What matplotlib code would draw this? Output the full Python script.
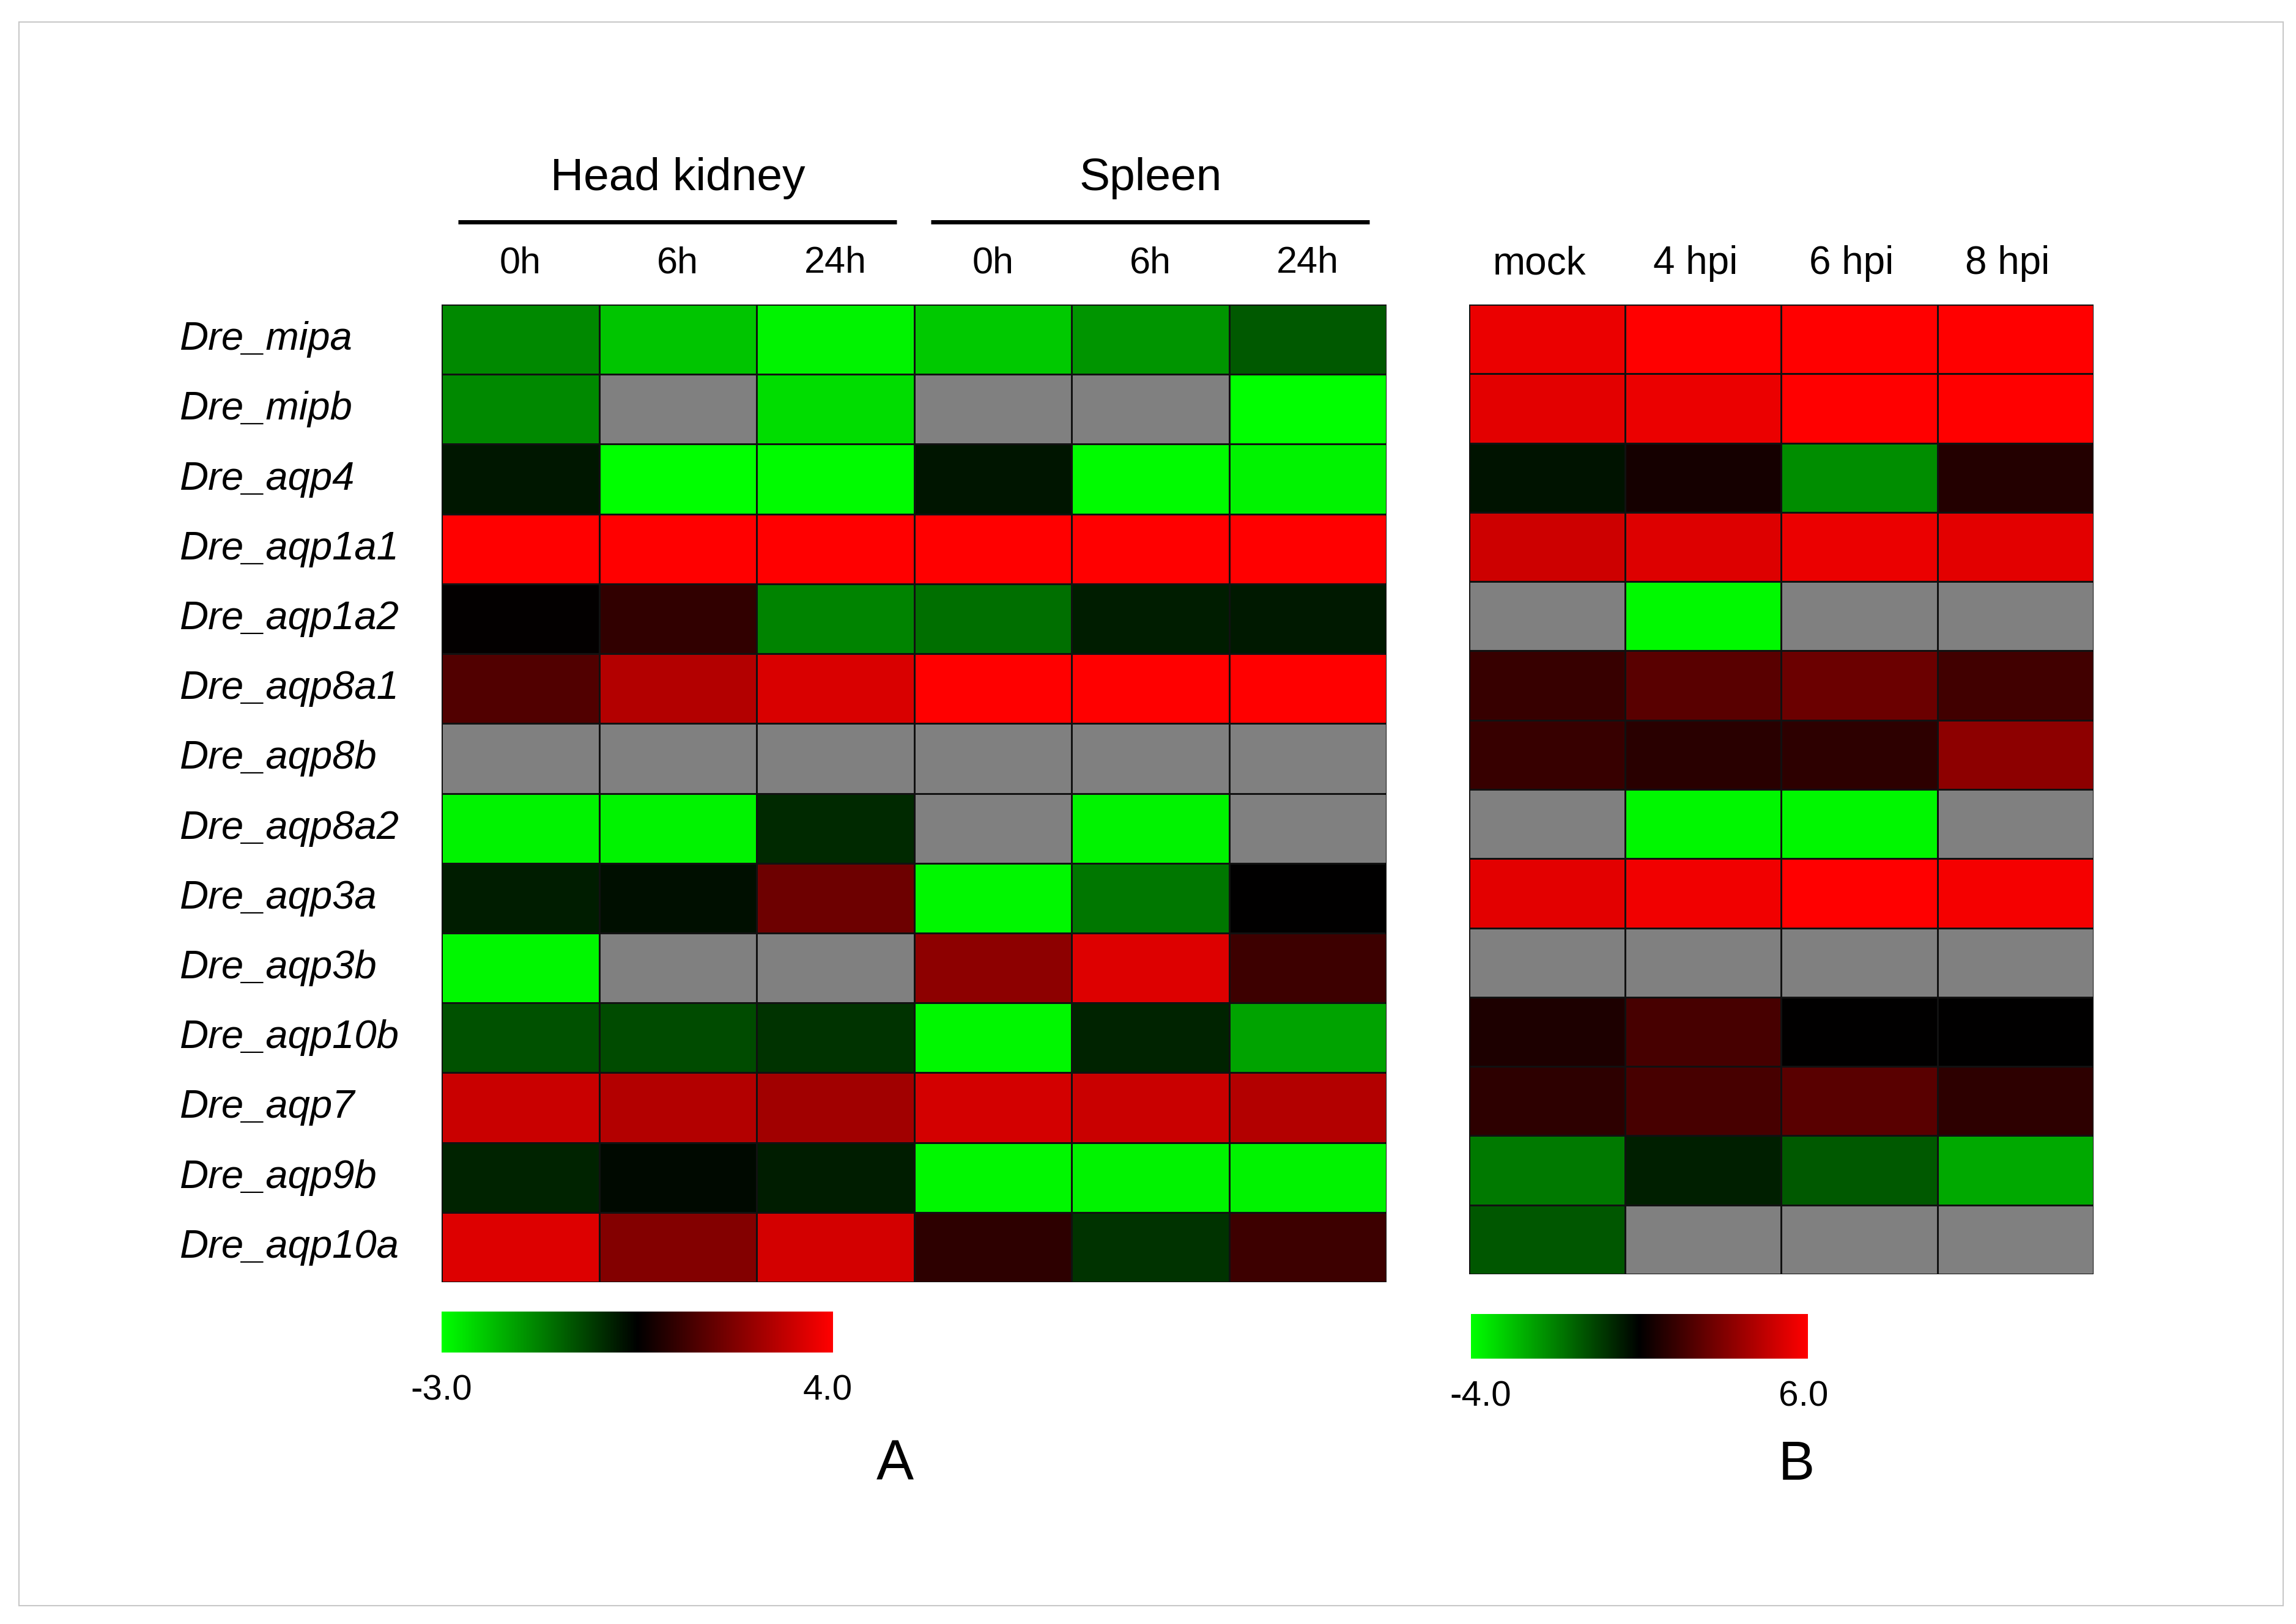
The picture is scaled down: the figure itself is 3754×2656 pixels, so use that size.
import numpy as np
import matplotlib
matplotlib.use("Agg")
import matplotlib.pyplot as plt
from matplotlib.colors import LinearSegmentedColormap, TwoSlopeNorm
from matplotlib import transforms
from matplotlib.patches import Rectangle

# data (log2 fold change, nan = not detected)
genes = ["Dre_mipa", "Dre_mipb", "Dre_aqp4", "Dre_aqp1a1", "Dre_aqp1a2", "Dre_aqp8a1",
         "Dre_aqp8b", "Dre_aqp8a2", "Dre_aqp3a", "Dre_aqp3b", "Dre_aqp10b", "Dre_aqp7",
         "Dre_aqp9b", "Dre_aqp10a"]
cols_a = ["0h", "6h", "24h", "0h", "6h", "24h"]
groups_a = ["Head kidney", "Spleen"]
cols_b = ["mock", "4 hpi", "6 hpi", "8 hpi"]
nan = np.nan

values_a = [
    [-1.6, -2.3, -2.85, -2.35, -1.75, -1.05],
    [-1.6, nan, -2.6, nan, nan, -3.0],
    [-0.28, -3.0, -2.95, -0.25, -2.95, -2.85],
    [4.0, 4.0, 4.0, 4.0, 4.0, 4.0],
    [0.05, 0.78, -1.53, -1.3, -0.35, -0.3],
    [1.25, 2.8, 3.4, 4.0, 4.0, 4.0],
    [nan, nan, nan, nan, nan, nan],
    [-2.85, -2.85, -0.47, nan, -2.85, nan],
    [-0.35, -0.18, 1.7, -2.9, -1.4, 0.0],
    [-2.9, nan, nan, 2.2, 3.45, 0.95],
    [-0.95, -0.88, -0.6, -2.9, -0.4, -1.9],
    [3.15, 2.8, 2.5, 3.3, 3.15, 2.8],
    [-0.4, -0.1, -0.35, -2.9, -2.85, -2.85],
    [3.45, 2.05, 3.3, 0.7, -0.6, 0.95],
]
values_b = [
    [5.5, 6.0, 6.0, 6.0],
    [5.3, 5.5, 6.0, 6.0],
    [-0.3, 0.47, -2.2, 0.82],
    [4.8, 5.2, 5.5, 5.3],
    [nan, -3.9, nan, nan],
    [1.3, 2.1, 2.5, 1.5],
    [1.3, 0.95, 1.05, 3.3],
    [nan, -3.85, -3.85, nan],
    [5.3, 5.65, 6.0, 5.75],
    [nan, nan, nan, nan],
    [0.7, 1.65, 0.0, 0.0],
    [1.05, 1.65, 2.1, 1.05],
    [-1.9, -0.47, -1.4, -2.65],
    [-1.35, nan, nan, nan],
]
range_a = (-3.0, 4.0)
range_b = (-4.0, 6.0)

W, H = 3755, 2656
arial = ["Liberation Sans", "DejaVu Sans"]

cmap = LinearSegmentedColormap.from_list("gbr", ["#00ff00", "#000000", "#ff0000"])
cmap.set_bad("#808080")

fig = plt.figure(figsize=(W / 100, H / 100), dpi=100)
fig.patch.set_facecolor("white")


def px_axes(left, top, right, bottom):
    return fig.add_axes([left / W, 1 - bottom / H, (right - left) / W, (bottom - top) / H])


# light frame
fig.add_artist(Rectangle((31 / W, 1 - 2626 / H), (3733 - 31) / W, (2626 - 36) / H,
                         transform=fig.transFigure, fill=False, edgecolor="#c8c8c8", lw=1.5))


def heatmap(ax, vals, vr):
    data = np.ma.masked_invalid(np.array(vals, dtype=float))
    norm = TwoSlopeNorm(vmin=vr[0], vcenter=0.0, vmax=vr[1])
    m = ax.pcolormesh(data, cmap=cmap, norm=norm, edgecolors="#111111", linewidth=1.8)
    ax.set_xlim(0, data.shape[1])
    ax.set_ylim(data.shape[0], 0)
    ax.set_xticks([])
    ax.set_yticks([])
    for s in ax.spines.values():
        s.set_visible(False)
    return m


ax_a = px_axes(722, 498, 2267, 2097)
m_a = heatmap(ax_a, values_a, range_a)
ax_b = px_axes(2402, 498, 3423, 2084)
m_b = heatmap(ax_b, values_b, range_b)

# row labels
tr = transforms.blended_transform_factory(fig.transFigure, ax_a.transData)
for i, g in enumerate(genes):
    fig.text(294 / W, i + 0.5, g, transform=tr, ha="left", va="center",
             fontsize=47, style="italic", family=arial)

# column labels
xt = ax_a.get_xaxis_transform()
for j, c in enumerate(cols_a):
    ax_a.text(j + 0.5, 1.042, c, transform=xt, ha="center", va="center",
              fontsize=44, family=arial)
for k, g in enumerate(groups_a):
    x0 = 3 * k
    ax_a.plot([x0 + 0.105, x0 + 2.89], [1.0844, 1.0844], transform=xt, color="black",
              lw=5, clip_on=False, solid_capstyle="butt")
    ax_a.text(x0 + 1.5, 1.129, g, transform=xt, ha="center", va="center",
              fontsize=54, family=arial)
xtb = ax_b.get_xaxis_transform()
for j, c in enumerate(cols_b):
    ax_b.text(j + 0.45, 1.042, c, transform=xtb, ha="center", va="center",
              fontsize=46, family=arial)

# colour bars
for m, vr, box, lab_x in [
        (m_a, range_a, (722, 2145, 1362, 2212), (722, 1353)),
        (m_b, range_b, (2405, 2149, 2956, 2222), (2421, 2949))]:
    cax = px_axes(*box)
    cb = fig.colorbar(m, cax=cax, orientation="horizontal")
    cb.set_ticks([])
    cb.outline.set_visible(False)
    y = 1 - (box[3] + 63) / H
    fig.text(lab_x[0] / W, y, f"{vr[0]:.1f}", ha="center", va="center", fontsize=42, family=arial)
    fig.text(lab_x[1] / W, y, f"{vr[1]:.1f}", ha="center", va="center", fontsize=42, family=arial)

fig.text(1463 / W, 1 - 2397 / H, "A", ha="center", va="center", fontsize=66, family=arial)
fig.text(2937 / W, 1 - 2397 / H, "B", ha="center", va="center", fontsize=64, family=arial)

fig.savefig("out.png", dpi=100, facecolor="white")
